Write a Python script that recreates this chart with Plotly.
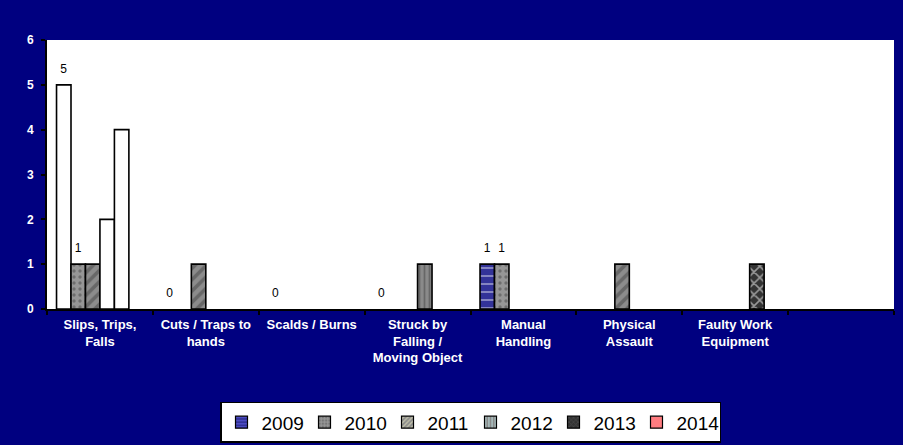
import plotly.graph_objects as go

categories = ["Slips, Trips,<br>Falls", "Cuts / Traps to<br>hands", "Scalds / Burns",
              "Struck by<br>Falling /<br>Moving Object", "Manual<br>Handling",
              "Physical<br>Assault", "Faulty Work<br>Equipment", " "]
years = ["2009", "2010", "2011", "2012", "2013", "2014"]
v2009 = [5, 0, 0, 0, 1, None, None, None]
v2010 = [1, None, None, None, 1, None, None, None]
v2011 = [1, 1, None, None, None, 1, None, None]
v2012 = [2, None, None, 1, None, None, None, None]
v2013 = [4, None, None, None, None, None, 1, None]
v2014 = [None] * 8
labelled = {"2009": True, "2010": True}

styles = {
    "2009": dict(bg="#333399", fg="#7070ff", shape="-", size=8, sol=0.2),
    "2010": dict(bg="#969696", fg="#555555", shape=".", size=6, sol=0.25),
    "2011": dict(bg="#8c8c8c", fg="#ffffcc", shape="/", size=8, sol=0.45),
    "2012": dict(bg="#8a8a8a", fg="#ccffff", shape="|", size=5, sol=0.35),
    "2013": dict(bg="#333333", fg="#5a5a5a", shape="x", size=8, sol=0.35),
    "2014": dict(bg="#ff7c80", fg="#ff7c80", shape="", size=8, sol=0.3),
}
series = {"2009": v2009, "2010": v2010, "2011": v2011,
          "2012": v2012, "2013": v2013, "2014": v2014}

fig = go.Figure()
for yr in years:
    vals = series[yr]
    st = styles[yr]
    # values > 1 render as plain white bars in the reference
    colors = ["white" if (v is not None and v > 1) else st["bg"] for v in vals]
    shapes = ["" if (v is not None and v > 1) else st["shape"] for v in vals]
    lw = [0 if v == 0 else 1.6 for v in vals]
    text = None
    if labelled.get(yr):
        text = [("<span style='font-size:12px'>%d</span><br> " % v) if v is not None else ""
                for v in vals]
    fig.add_trace(go.Bar(
        x=categories, y=vals, name=yr, offsetgroup=yr, showlegend=False,
        marker=dict(color=colors, line=dict(color="black", width=lw),
                    pattern=dict(shape=shapes, fgcolor=st["fg"], size=st["size"],
                                 solidity=st["sol"])),
        text=text, textposition="outside", cliponaxis=False, constraintext="none",
        textfont=dict(family="Liberation Sans", size=6, color="black"),
        outsidetextfont=dict(family="Liberation Sans", size=6, color="black"),
        hoverinfo="skip",
    ))
    # legend entry
    fig.add_trace(go.Bar(
        x=[categories[0]], y=[None], name=yr, offsetgroup=yr, showlegend=True,
        marker=dict(color=st["bg"], line=dict(color="black", width=1.2),
                    pattern=dict(shape=st["shape"], fgcolor=st["fg"], size=4,
                                 solidity=0.4)),
    ))

fig.update_layout(
    width=903, height=445,
    margin=dict(l=47, r=9, t=40, b=136, autoexpand=False),
    paper_bgcolor="#000080", plot_bgcolor="white",
    barmode="group", bargap=0.18, bargroupgap=0,
    font=dict(family="Liberation Sans", color="white"),
    showlegend=True,
    legend=dict(orientation="h", x=0.5, xanchor="center", y=-0.345, yanchor="top",
                bgcolor="white", bordercolor="black", borderwidth=1.5,
                font=dict(family="Liberation Sans", size=19, color="black"),
                itemwidth=30, tracegroupgap=0, entrywidth=38),
    xaxis=dict(showline=True, linecolor="black", linewidth=2, ticks="outside",
               tickson="boundaries", ticklen=4, tickcolor="black", tickwidth=2,
               tickfont=dict(family="Liberation Sans", size=13, color="white", weight="bold"),
               showgrid=False, fixedrange=True, ticklabelstandoff=2),
    yaxis=dict(range=[0, 6], dtick=1, showline=True, linecolor="black", linewidth=2,
               ticks="outside", ticklen=4, tickcolor="black", tickwidth=2,
               tickfont=dict(family="Liberation Sans", size=12, color="white", weight="bold"),
               showgrid=False, zeroline=False, ticklabelstandoff=5, fixedrange=True),
)

fig.write_html("out.html", config={"displayModeBar": False},
               post_script="document.body.style.margin='0';")
